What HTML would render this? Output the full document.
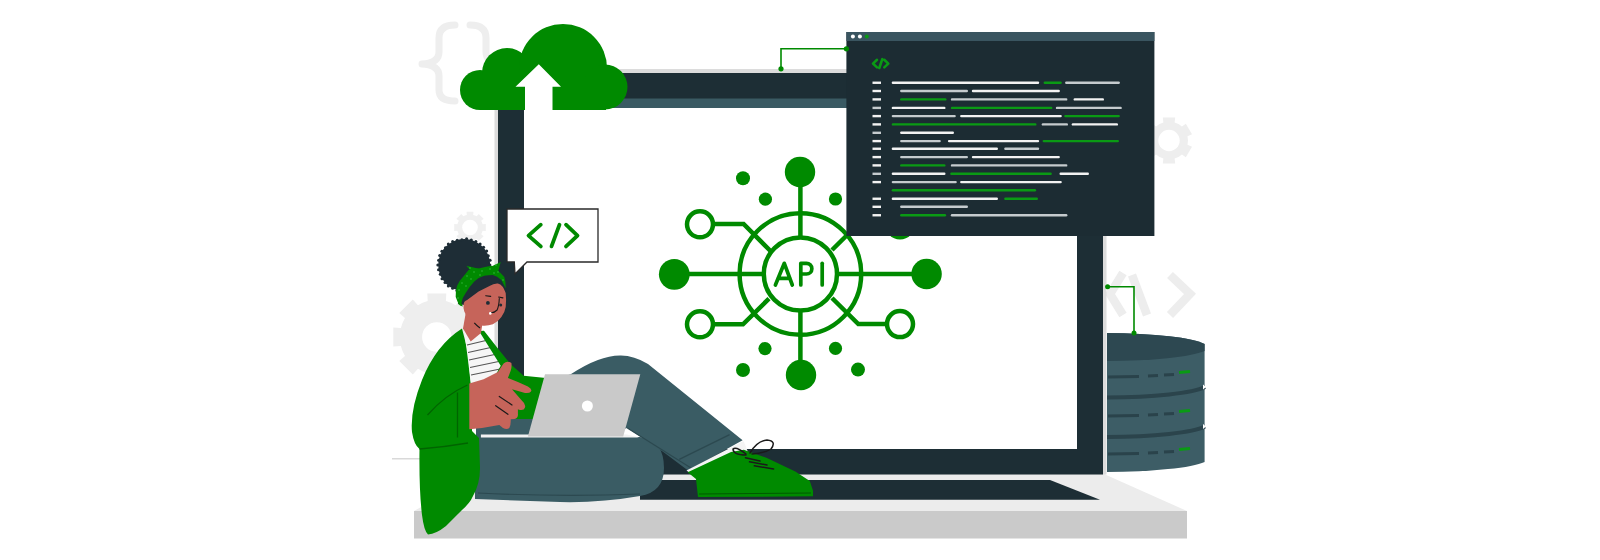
<!DOCTYPE html>
<html><head><meta charset="utf-8"><style>html,body{margin:0;padding:0;background:#fff;width:1600px;height:560px;overflow:hidden}svg{display:block}</style></head>
<body><svg width="1600" height="560" viewBox="0 0 1600 560">
<rect width="1600" height="560" fill="#fff"/>
<g fill="none" stroke="#eeeeee" stroke-width="7" stroke-linecap="round" stroke-linejoin="round">
<path d="M455,25 Q439,25 439,38 L439,52 Q439,63 422,64 Q439,65 439,76 L439,90 Q439,101 455,101"/>
<path d="M470,25 Q486,25 486,38 L486,52 Q486,63 502,64 Q486,65 486,76 L486,90 Q486,101 470,101"/>
</g>
<path d="M482.0,222.5 L482.6,224.3 L485.8,224.0 L485.8,231.0 L482.6,230.7 L482.0,232.5 L481.2,234.2 L483.6,236.2 L478.7,241.1 L476.7,238.7 L475.0,239.5 L473.2,240.1 L473.5,243.3 L466.5,243.3 L466.8,240.1 L465.0,239.5 L463.3,238.7 L461.3,241.1 L456.4,236.2 L458.8,234.2 L458.0,232.5 L457.4,230.7 L454.2,231.0 L454.2,224.0 L457.4,224.3 L458.0,222.5 L458.8,220.8 L456.4,218.8 L461.3,213.9 L463.3,216.3 L465.0,215.5 L466.8,214.9 L466.5,211.7 L473.5,211.7 L473.2,214.9 L475.0,215.5 L476.7,216.3 L478.7,213.9 L483.6,218.8 L481.2,220.8Z" fill="#f0f0f0"/><circle cx="470" cy="227.5" r="7.8" fill="#fff"/>
<path d="M471.0,322.8 L472.7,327.9 L480.3,327.5 L480.3,346.5 L472.7,346.1 L471.0,351.2 L468.6,355.9 L474.3,361.0 L460.8,374.5 L455.7,368.8 L451.0,371.2 L445.9,372.9 L446.3,380.5 L427.3,380.5 L427.7,372.9 L422.6,371.2 L417.9,368.8 L412.8,374.5 L399.3,361.0 L405.0,355.9 L402.6,351.2 L400.9,346.1 L393.3,346.5 L393.3,327.5 L400.9,327.9 L402.6,322.8 L405.0,318.1 L399.3,313.0 L412.8,299.5 L417.9,305.2 L422.6,302.8 L427.7,301.1 L427.3,293.5 L446.3,293.5 L445.9,301.1 L451.0,302.8 L455.7,305.2 L460.8,299.5 L474.3,313.0 L468.6,318.1Z" fill="#eeeeee"/><circle cx="436.8" cy="337" r="14.7" fill="#fff"/>
<path d="M1178.5,157.0 L1174.6,158.6 L1175.2,163.5 L1162.8,163.5 L1163.4,158.6 L1159.5,157.0 L1156.1,154.5 L1152.2,157.3 L1146.0,146.7 L1150.5,144.7 L1150.0,140.5 L1150.5,136.3 L1146.0,134.3 L1152.2,123.7 L1156.1,126.5 L1159.5,124.0 L1163.4,122.4 L1162.8,117.5 L1175.2,117.5 L1174.6,122.4 L1178.5,124.0 L1181.9,126.5 L1185.8,123.7 L1192.0,134.3 L1187.5,136.3 L1188.0,140.5 L1187.5,144.7 L1192.0,146.7 L1185.8,157.3 L1181.9,154.5Z" fill="#eeeeee"/><circle cx="1169" cy="140.5" r="10.7" fill="#fff"/>
<g fill="none" stroke="#ededed" stroke-width="8.5" stroke-linecap="butt" stroke-linejoin="miter">
<path d="M1123,273 L1110,294 L1123,315"/><path d="M1132,275 L1147,315"/><path d="M1170,275 L1190,294 L1170,315"/>
</g>
<rect x="392" y="458" width="30" height="1.5" fill="#d9d9d9"/>
<polygon points="480,474 1104,474 1187,511 414,511" fill="#ececec"/>
<rect x="414" y="511" width="773" height="27.5" fill="#cacaca"/>
<polygon points="640,480 1050,480 1100,499.7 640,499.7" fill="#1d2e35"/>
<rect x="494.5" y="69" width="612" height="405.5" fill="#dcdcdc"/>
<rect x="498" y="73" width="605" height="401.5" fill="#1d2e35"/>
<rect x="524" y="98.5" width="553" height="10" fill="#3a5a63"/>
<rect x="524" y="108" width="553" height="341" fill="#fff"/>
<g>
<path d="M1107,333 A105,14.5 0 0 1 1204.6,344 L1204.6,462 A105,14 0 0 1 1107,472 Z" fill="#3d5d66"/>
<path d="M1107,333 A105,14.5 0 0 1 1204.6,344 L1204.6,351 A105,14.5 0 0 1 1107,361 Z" fill="#2d4851"/>
<path d="M1107,397.5 A105,14 0 0 0 1205,387.0" fill="none" stroke="#2b444c" stroke-width="4"/>
<path d="M1203,384.5 L1206,387.0 L1203,389.5" fill="#fff"/>
<path d="M1107,437 A105,14 0 0 0 1205,426.5" fill="none" stroke="#2b444c" stroke-width="4"/>
<path d="M1203,424 L1206,426.5 L1203,429" fill="#fff"/>
<path d="M1108,377 L1139,376.5" stroke="#2a434b" stroke-width="3"/>
<path d="M1148,376 L1158,375.5 M1164,375 L1174,374.5" stroke="#2a434b" stroke-width="3"/>
<path d="M1179,372.5 L1190,371.5" stroke="#0a9a14" stroke-width="3"/>
<path d="M1108,416 L1139,415.5" stroke="#2a434b" stroke-width="3"/>
<path d="M1148,415 L1158,414.5 M1164,414 L1174,413.5" stroke="#2a434b" stroke-width="3"/>
<path d="M1179,411.5 L1190,410.5" stroke="#0a9a14" stroke-width="3"/>
<path d="M1108,454 L1139,453.5" stroke="#2a434b" stroke-width="3"/>
<path d="M1148,453 L1158,452.5 M1164,452 L1174,451.5" stroke="#2a434b" stroke-width="3"/>
<path d="M1179,449.5 L1190,448.5" stroke="#0a9a14" stroke-width="3"/>
</g>
<path d="M1107.6,286.8 H1134 V333" fill="none" stroke="#008a00" stroke-width="1.6"/>
<circle cx="1107.6" cy="286.8" r="2.5" fill="#008a00"/><circle cx="1134" cy="333" r="2.5" fill="#008a00"/>
<g fill="none" stroke="#008a00" stroke-width="4.5">
<circle cx="800.4" cy="274" r="60.8"/>
<circle cx="800.4" cy="274" r="36.6"/>
<path d="M800.4,172 V237.4 M800.4,310.6 V375"/>
<path d="M674,274 H763.8 M837,274 H927"/>
<path d="M714,224 H743.6 L771,251.5"/>
<path d="M714,324.3 H743 L769,298.6"/>
<path d="M886,324.1 H858.3 L832,298"/>
<path d="M886,224 H858.3 L832,250"/>
<circle cx="700" cy="224.3" r="13"/><circle cx="700" cy="324.3" r="13"/><circle cx="900" cy="324.1" r="13"/><circle cx="900" cy="224.3" r="13"/>
</g>
<g fill="#008a00">
<circle cx="800" cy="172" r="15.2"/>
<circle cx="674.3" cy="274.3" r="15.4"/>
<circle cx="926.6" cy="274" r="15.2"/>
<circle cx="801" cy="375" r="15.2"/>
<circle cx="743" cy="178.3" r="7"/>
<circle cx="765.4" cy="199.2" r="6.6"/>
<circle cx="835.5" cy="199" r="6.6"/>
<circle cx="858" cy="178.3" r="7"/>
<circle cx="765" cy="348.6" r="6.6"/>
<circle cx="743" cy="370" r="7"/>
<circle cx="835.5" cy="348.4" r="6.6"/>
<circle cx="858" cy="369.6" r="7"/>
</g>
<g fill="none" stroke="#008a00" stroke-width="3.7" stroke-linecap="round" stroke-linejoin="round">
<path d="M775.4,285 L784.3,263.3 L792.3,285 M778,278.3 H790"/>
<path d="M800.8,285 V263.3 H806.5 A5.35,5.35 0 0 1 806.5,274 H800.8"/>
<path d="M822.2,263.3 V285"/>
</g>
<defs><clipPath id="cc"><rect x="440" y="0" width="220" height="110"/></clipPath></defs>
<g fill="#008a00" clip-path="url(#cc)">
<circle cx="480" cy="90" r="20"/><circle cx="507" cy="73" r="25"/><circle cx="563" cy="68" r="44"/><circle cx="605" cy="87" r="22.5"/>
<rect x="480" y="80" width="126" height="30"/>
</g>
<polygon points="538.8,64.3 561,86.8 552.5,86.8 552.5,110.5 525,110.5 525,86.8 515.5,86.8" fill="#fff"/>
<path d="M781,68.8 V48.8 H846" fill="none" stroke="#008a00" stroke-width="1.6"/>
<circle cx="781" cy="68.8" r="2.6" fill="#008a00"/>
<rect x="846.4" y="32" width="308" height="204" fill="#1c2c33"/>
<rect x="846.4" y="32" width="308" height="9" fill="#3a5560"/>
<circle cx="852.9" cy="36.6" r="2" fill="#fff"/><circle cx="859.9" cy="36.6" r="2" fill="#fff"/><circle cx="866.8" cy="36.6" r="2" fill="#0a9a14"/>
<circle cx="846.4" cy="48.8" r="2.6" fill="#008a00"/>
<g fill="none" stroke="#0a9a14" stroke-width="2.6" stroke-linecap="round" stroke-linejoin="round"><path d="M877,59.8 L873,63.6 L877,67.4 M882.3,59.2 L879.3,68 M884.3,59.8 L888.3,63.6 L884.3,67.4"/></g>
<g stroke-width="2.4" stroke-linecap="round">
<path d="M872.5,82.75 H881" stroke="#f2f2f2" stroke-linecap="butt"/>
<path d="M892.9,82.75 H1038" stroke="#f2f2f2"/>
<path d="M1044.8,82.75 H1060.6" stroke="#0a9a14"/>
<path d="M1066.3,82.75 H1118.7" stroke="#c5cbce"/>
<path d="M872.5,91 H881" stroke="#f2f2f2" stroke-linecap="butt"/>
<path d="M901.3,91 H966.8" stroke="#c5cbce"/>
<path d="M973,91 H1058.7" stroke="#f2f2f2"/>
<path d="M872.5,99.4 H881" stroke="#f2f2f2" stroke-linecap="butt"/>
<path d="M901.3,99.4 H945.3" stroke="#0a9a14"/>
<path d="M952,99.4 H1066.2" stroke="#c5cbce"/>
<path d="M1074.8,99.4 H1102.8" stroke="#f2f2f2"/>
<path d="M872.5,107.9 H881" stroke="#c5cbce" stroke-linecap="butt"/>
<path d="M892.9,107.9 H944.3" stroke="#f2f2f2"/>
<path d="M952,107.9 H1051.2" stroke="#0a9a14"/>
<path d="M1057,107.9 H1120.6" stroke="#c5cbce"/>
<path d="M872.5,116.1 H881" stroke="#f2f2f2" stroke-linecap="butt"/>
<path d="M892.9,116.1 H954.6" stroke="#c5cbce"/>
<path d="M961.3,116.1 H1060.6" stroke="#f2f2f2"/>
<path d="M1065.4,116.1 H1118.7" stroke="#0a9a14"/>
<path d="M872.5,124.4 H881" stroke="#f2f2f2" stroke-linecap="butt"/>
<path d="M892.9,124.4 H1035.3" stroke="#0a9a14"/>
<path d="M1042.9,124.4 H1066.8" stroke="#c5cbce"/>
<path d="M1072.9,124.4 H1116.8" stroke="#f2f2f2"/>
<path d="M872.5,132.8 H881" stroke="#c5cbce" stroke-linecap="butt"/>
<path d="M901.3,132.8 H952.8" stroke="#f2f2f2"/>
<path d="M872.5,141.1 H881" stroke="#f2f2f2" stroke-linecap="butt"/>
<path d="M901.3,141.1 H939.6" stroke="#c5cbce"/>
<path d="M949.1,141.1 H1038" stroke="#f2f2f2"/>
<path d="M1043.8,141.1 H1117.8" stroke="#0a9a14"/>
<path d="M872.5,148.75 H881" stroke="#f2f2f2" stroke-linecap="butt"/>
<path d="M892.9,148.75 H996.8" stroke="#f2f2f2"/>
<path d="M1005.4,148.75 H1038" stroke="#c5cbce"/>
<path d="M872.5,157.1 H881" stroke="#f2f2f2" stroke-linecap="butt"/>
<path d="M901.3,157.1 H966.8" stroke="#c5cbce"/>
<path d="M973,157.1 H1058.7" stroke="#f2f2f2"/>
<path d="M872.5,165.4 H881" stroke="#f2f2f2" stroke-linecap="butt"/>
<path d="M901.3,165.4 H944.3" stroke="#0a9a14"/>
<path d="M952,165.4 H1066.2" stroke="#c5cbce"/>
<path d="M872.5,173.8 H881" stroke="#c5cbce" stroke-linecap="butt"/>
<path d="M892.9,173.8 H944.3" stroke="#f2f2f2"/>
<path d="M951.4,173.8 H1050.6" stroke="#0a9a14"/>
<path d="M1060.7,173.8 H1087.8" stroke="#f2f2f2"/>
<path d="M872.5,182.1 H881" stroke="#f2f2f2" stroke-linecap="butt"/>
<path d="M892.9,182.1 H955.6" stroke="#c5cbce"/>
<path d="M961.3,182.1 H1060.6" stroke="#f2f2f2"/>
<path d="M892.9,190.3 H1034.9" stroke="#0a9a14"/>
<path d="M872.5,198.75 H881" stroke="#f2f2f2" stroke-linecap="butt"/>
<path d="M892.9,198.75 H996.8" stroke="#f2f2f2"/>
<path d="M1005.4,198.75 H1036.8" stroke="#0a9a14"/>
<path d="M872.5,206.8 H881" stroke="#f2f2f2" stroke-linecap="butt"/>
<path d="M901.3,206.8 H966.8" stroke="#c5cbce"/>
<path d="M872.5,215.25 H881" stroke="#f2f2f2" stroke-linecap="butt"/>
<path d="M901.3,215.25 H944.9" stroke="#0a9a14"/>
<path d="M952,215.25 H1066.2" stroke="#c5cbce"/>
</g>
<path d="M507,209 H598 V262 H527 L515,274 L514.3,262 H507 Z" fill="#fff" stroke="#2a2a2a" stroke-width="1.3"/>
<g fill="none" stroke="#008a00" stroke-width="3.8" stroke-linecap="round" stroke-linejoin="round"><path d="M540.8,224.7 L528.5,235.6 L540.8,246.4 M559.5,224.7 L551.5,246.4 M566,224.7 L577.5,235.6 L566,246.4"/></g>
<path d="M475,437 L640,437 Q664,440 664,468 Q664,492 640,496 Q600,503 560,502 L475,499 Z" fill="#3a5c64"/>
<path d="M478,493 Q560,497 640,494" fill="none" stroke="#2c4950" stroke-width="1.2"/>
<path d="M476,412 L546,412 L546,437 L476,437 Z" fill="#3a5c64"/>
<path d="M545,436 L545,382 L570.7,374.3 Q600,355 621,355.5 Q634,355.5 648,364 L742.6,440.2 L688,470.5 L663.7,452.3 L627.3,428 L600,436 Z" fill="#3a5c64"/>
<path d="M729.6,434.6 L679.3,459.3" stroke="#2c4950" stroke-width="1.3"/>
<path d="M627.3,428 L691,468" stroke="#2c4950" stroke-width="1.2"/>
<polygon points="743.5,441 686.5,470.5 690,473 748,452" fill="#f4f4f4"/>
<path d="M687.7,472.2 L731,452.1 L743.9,449.7 L766.4,457.75 L795.3,471.4 L809.8,481 L813,490.7 L813,496.3 L698,497.1 L696,479 Z" fill="#008a00"/>
<path d="M699,494 L811,493" stroke="#005a00" stroke-width="1"/>
<g fill="none" stroke="#1a1a1a" stroke-width="1.5" stroke-linecap="round"><path d="M746,454 Q736,446 733,449 Q733,455 746,455"/><path d="M750,453 Q757,441 767,440 Q777,441 771,449 Q765,453 752,454"/><path d="M745.5,457.75 L760,461 M749.5,461.8 L767,465 M754.3,465.8 L773.6,469"/></g>
<path d="M462,328.5 Q436,345 422,380 Q410,410 412,432 Q414,445 419.5,449 Q419,490 422,515 Q424,531 428,534.5 Q436,534 446,526 Q456,516 462,510 Q470,503 473,496 Q480,484 480,468 L479,438 L472,431 L471,384 L467.5,350 Z" fill="#008a00"/>
<path d="M427.5,415 Q445,395 467.5,385 M457.5,392.5 L457.5,437.5 M419.5,449 Q445,447 468,443" fill="none" stroke="#006400" stroke-width="1.3"/>
<path d="M464,330 L481,332 L503,366 L510,380 L471,386 L468,360 Z" fill="#f6f6f6"/>
<g stroke="#555" stroke-width="1.1"><path d="M467,345 L488,340 M468,352.5 L493,347 M469,360 L497,354 M470,367.5 L501,361 M471,375 L505,368"/></g>
<path d="M479,331 L484,330.7 L497.9,348.6 L510.7,364.3 L523.6,375.7 L546,378 L546,419 L500,419 L494,378 L500.7,365.7 Z" fill="#008a00"/>
<path d="M465.6,313.75 L463,328.6 L470.7,341.4 L481,333 L483,320 Z" fill="#c6645a"/>
<circle cx="464.2" cy="265" r="26" fill="#1e2d36"/>
<circle cx="489.9" cy="265.0" r="1.5" fill="#1e2d36"/>
<circle cx="489.8" cy="269.8" r="1.5" fill="#1e2d36"/>
<circle cx="488.3" cy="274.3" r="1.5" fill="#1e2d36"/>
<circle cx="486.4" cy="278.8" r="1.5" fill="#1e2d36"/>
<circle cx="483.5" cy="282.6" r="1.5" fill="#1e2d36"/>
<circle cx="479.6" cy="285.3" r="1.5" fill="#1e2d36"/>
<circle cx="475.5" cy="287.8" r="1.5" fill="#1e2d36"/>
<circle cx="471.4" cy="290.4" r="1.5" fill="#1e2d36"/>
<circle cx="466.6" cy="290.6" r="1.5" fill="#1e2d36"/>
<circle cx="461.8" cy="290.6" r="1.5" fill="#1e2d36"/>
<circle cx="456.9" cy="290.6" r="1.5" fill="#1e2d36"/>
<circle cx="452.6" cy="288.2" r="1.5" fill="#1e2d36"/>
<circle cx="448.3" cy="286.1" r="1.5" fill="#1e2d36"/>
<circle cx="445.0" cy="282.5" r="1.5" fill="#1e2d36"/>
<circle cx="442.0" cy="278.8" r="1.5" fill="#1e2d36"/>
<circle cx="440.3" cy="274.2" r="1.5" fill="#1e2d36"/>
<circle cx="438.5" cy="269.8" r="1.5" fill="#1e2d36"/>
<circle cx="437.8" cy="265.0" r="1.5" fill="#1e2d36"/>
<circle cx="438.6" cy="260.2" r="1.5" fill="#1e2d36"/>
<circle cx="439.7" cy="255.5" r="1.5" fill="#1e2d36"/>
<circle cx="441.9" cy="251.2" r="1.5" fill="#1e2d36"/>
<circle cx="445.4" cy="247.8" r="1.5" fill="#1e2d36"/>
<circle cx="448.3" cy="244.0" r="1.5" fill="#1e2d36"/>
<circle cx="452.6" cy="241.6" r="1.5" fill="#1e2d36"/>
<circle cx="457.2" cy="240.2" r="1.5" fill="#1e2d36"/>
<circle cx="461.9" cy="239.7" r="1.5" fill="#1e2d36"/>
<circle cx="466.6" cy="238.7" r="1.5" fill="#1e2d36"/>
<circle cx="471.3" cy="240.0" r="1.5" fill="#1e2d36"/>
<circle cx="475.9" cy="241.5" r="1.5" fill="#1e2d36"/>
<circle cx="480.1" cy="243.9" r="1.5" fill="#1e2d36"/>
<circle cx="483.6" cy="247.3" r="1.5" fill="#1e2d36"/>
<circle cx="486.7" cy="251.0" r="1.5" fill="#1e2d36"/>
<circle cx="488.3" cy="255.7" r="1.5" fill="#1e2d36"/>
<circle cx="490.1" cy="260.2" r="1.5" fill="#1e2d36"/>
<path d="M458,304 Q460,282 474,274 Q492,268 503,277 Q508,290 506,300 L470,306 Z" fill="#1e2d36"/>
<path d="M467.1,300 Q464,301 463.6,304.3 Q463,309 464.3,311.4 Q467,318 471.4,321.4 Q477,325 482.9,325.7 Q488,326 492.9,324.3 Q498,322 501.4,317.1 Q505,312 505.7,307.1 Q506.5,300 505.7,292.9 Q504,289 502.9,287.1 Q500,283 497.1,283.6 Q493,284 490,285.7 L478.6,291.4 Z" fill="#c6645a"/>
<circle cx="487.9" cy="302.9" r="1.9" fill="#1e2d36"/><circle cx="500.7" cy="305" r="1.5" fill="#1e2d36"/>
<path d="M485.7,295.7 L490.7,296.4 M498.6,297 L502.9,297.9 M499.3,298.6 Q499,306 497.1,310 Q494,313 491.4,312.5" fill="none" stroke="#1a1a1a" stroke-width="1.1" stroke-linecap="round"/>
<circle cx="490.3" cy="313.4" r="1.3" fill="#fff"/>
<path d="M455.7,297 Q455.5,290 457.1,285.7 Q459,281 462.9,277 L468.6,270 Q474,268 478.6,268.6 Q485,266.5 491.4,265.7 L497.1,270 Q501,273 504.3,277 Q506,282 505.7,288.6 L505,287 Q503,283 501.4,280 Q497,276 492.9,275 Q488,275 484.3,275.7 Q479,277 474.3,281.4 Q469,287 465.7,292.9 Q462,298 461.4,302.9 L462.9,306.4 Q460,306 458.6,304.3 Z" fill="#008a00"/>
<path d="M466.4,265.7 L486,270.5 L476,277 Z M500.7,262.1 L484,270 L497,276 Z" fill="#008a00"/>
<g fill="#3fbf4a" opacity="0.8"><circle cx="459" cy="290" r="0.8"/><circle cx="462" cy="283" r="0.8"/><circle cx="467" cy="276" r="0.8"/><circle cx="474" cy="272" r="0.8"/><circle cx="482" cy="271" r="0.8"/><circle cx="490" cy="269" r="0.8"/><circle cx="498" cy="272" r="0.8"/><circle cx="503" cy="280" r="0.8"/><circle cx="458" cy="298" r="0.8"/><circle cx="466" cy="286" r="0.8"/><circle cx="471" cy="279" r="0.8"/><circle cx="480" cy="275" r="0.8"/><circle cx="494" cy="273" r="0.8"/><circle cx="470" cy="268" r="0.8"/><circle cx="496" cy="265" r="0.8"/></g>
<path d="M474.3,322.9 Q477,326 480,327.9" fill="none" stroke="#1a1a1a" stroke-width="1.2"/>
<path d="M469.3,383.6 L483.6,379.3 L497.9,372.1 L503.6,363.6 Q507,360.5 511.4,362.9 Q512,367 510.7,370.7 L507.9,377.9 L517.9,382.1 L527.9,386.4 Q532.5,389 531,391.5 Q529.5,393.5 525,393 L512,389.3 L522,400.7 Q526,404 525,407.5 Q524,411 519,409.8 L517.9,409.3 L517.9,413.6 Q518.5,418 514.5,419 L510.7,419.3 Q511,425 509.3,427.9 Q507,430 503,428 L499.3,425 L482,427.9 L469.3,429.3 Z" fill="#c6645a"/>
<path d="M499.3,396.4 L512,405 M495.7,405.7 L507.9,414.3" stroke="#1a1a1a" stroke-width="1.2" stroke-linecap="round"/>
<path d="M480.9,434.5 L627,434.5 L639,437.5 L480.9,437.5 Z" fill="#f2f2f2"/>
<polygon points="545,374.3 640.3,374.3 623.2,436.4 527.9,436.4" fill="#c9c9c9"/>
<circle cx="587.4" cy="406" r="5.5" fill="#fff"/>
</svg></body></html>
